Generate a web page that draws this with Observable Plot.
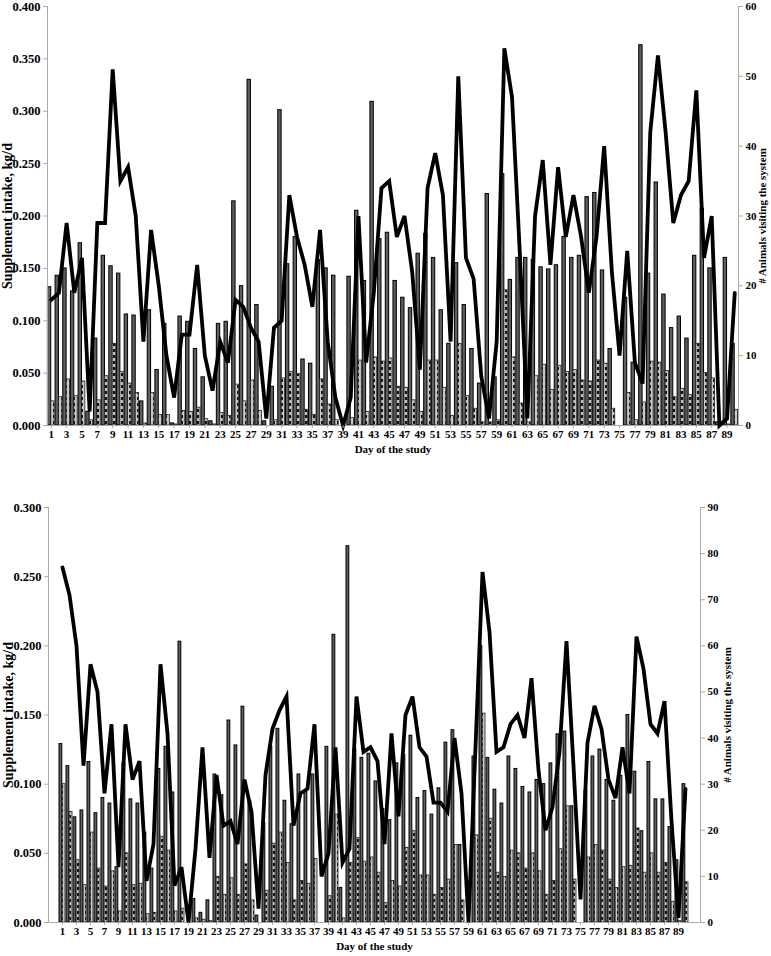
<!DOCTYPE html>
<html><head><meta charset="utf-8">
<script src="https://cdn.jsdelivr.net/npm/d3@7"></script>
<script src="https://cdn.jsdelivr.net/npm/@observablehq/plot@0.6"></script>
<style>
body{margin:0;background:#fff;}
#c svg{display:block;}
</style></head><body><div id="c"></div>
<script>
const days = d3.range(1, 91);
const oddDays = days.filter(d => d % 2 === 1);

// Panel 1
const p1Total = [0.132,0.143,0.150,0.128,0.174,0.013,0.083,0.162,0.152,0.145,
 0.106,0.105,0.023,0.110,0.053,0.097,0.002,0.104,0.099,0.073,
 0.046,0.004,0.097,0.099,0.214,0.133,0.330,0.115,0.004,0.037,
 0.301,0.154,0.180,0.063,0.059,0.158,0.150,0.143,0,0.142,
 0.205,0.138,0.309,0.178,0.184,0.138,0.122,0.112,0.164,0.183,
 0.160,0.110,0.078,0.155,0.115,0.073,0.040,0.221,0.046,0.240,
 0.139,0.160,0.160,0.158,0.151,0.149,0.153,0.180,0.160,0.162,
 0.218,0.222,0.148,0.073,0,0.122,0.060,0.363,0.145,0.232,
 0.125,0.093,0.104,0.083,0.162,0.207,0.150,0.003,0.160,0.078];
const p1Small = [0.023,0.027,0.044,0.028,0.042,0.005,0.024,0.047,0.078,0.051,
 0.040,0.031,0.002,0.031,0.010,0.010,0.001,0.014,0.013,0.017,
 0.006,0.001,0.012,0.009,0.039,0.023,0.043,0.014,0,0.005,
 0.045,0.051,0.049,0.015,0.010,0.044,0.020,0.005,0,0.007,
 0.062,0.013,0.065,0.061,0.064,0.037,0.036,0.024,0.013,0.062,
 0.062,0.036,0.009,0.078,0.028,0.016,0.003,0.003,0.005,0.129,
 0.065,0.021,0.003,0.047,0.058,0.034,0.057,0.051,0.053,0.043,
 0.042,0.062,0.059,0.016,0,0.031,0.005,0.022,0.061,0.060,
 0.052,0.027,0.035,0.029,0.078,0.050,0.045,0.002,0.001,0.015];
const p1Animals = [18,19,29,19,24,2,29,29,51,35,
 37,30,12,28,20,10,4,13,13,23,
 10,5,12,9,18,17,14,12,1,14,
 15,33,27,23,17,28,12,4,0,4,
 30,9,19,34,35,27,30,22,8,34,
 39,33,12,50,24,21,7,1,12,54,
 47,25,1,30,38,23,37,27,33,27,
 19,27,40,22,10,25,9,6,42,53,
 42,29,33,35,48,24,30,0,1,19];
const p1LeftTicks = [0,0.05,0.10,0.15,0.20,0.25,0.30,0.35,0.40];
const p1RightTicks = [0,10,20,30,40,50,60];

// Panel 2
const p2Total = [0.129,0.113,0.076,0.081,0.116,0.079,0.090,0.086,0.040,0.115,
 0.089,0.086,0.065,0.039,0.111,0.127,0.094,0.203,0,0.017,
 0.007,0.016,0.107,0.092,0.146,0.128,0.156,0.088,0.005,0.072,
 0.127,0.140,0.088,0.071,0.107,0.095,0.107,0,0.127,0.208,
 0.025,0.272,0.125,0.119,0.122,0.102,0.082,0.074,0.115,0.121,
 0.135,0.090,0.095,0.078,0.097,0.130,0.139,0.056,0,0.120,
 0.200,0.119,0.096,0.086,0.120,0.111,0.098,0.094,0.103,0.100,
 0.115,0.136,0.138,0.084,0,0.095,0.120,0.125,0.103,0.088,
 0.106,0.150,0.109,0.066,0.116,0.089,0.089,0.069,0.045,0.100];
const p2Small = [0.100,0.080,0.045,0.027,0.065,0.039,0.026,0.037,0.008,0.050,
 0.027,0.028,0.006,0.007,0.062,0.052,0.008,0.010,0,0.003,
 0.002,0.001,0.033,0.020,0.032,0.020,0.042,0.016,0,0.023,
 0.057,0.065,0.043,0.016,0.030,0.028,0.046,0,0.019,0.078,
 0.003,0.043,0.061,0.044,0.047,0.036,0.014,0.030,0.026,0.054,
 0.066,0.034,0.034,0.020,0.025,0.031,0.056,0.016,0,0.063,
 0.151,0.075,0.036,0.033,0.052,0.050,0.039,0.050,0.037,0.020,
 0.030,0.053,0.084,0.031,0,0.047,0.056,0.052,0.031,0.025,
 0.040,0.041,0.068,0.036,0.050,0.036,0.043,0.015,0.001,0.029];
const p2Animals = [77,71,60,34,56,50,28,43,12,43,
 31,35,9,17,56,41,8,12,0,16,
 38,14,32,21,22,17,31,24,3,32,
 42,46,49,21,28,29,43,10,15,38,
 13,16,49,37,38,35,17,41,23,45,
 49,38,36,26,26,24,40,28,0,38,
 76,63,37,38,43,45,40,53,33,20,
 25,37,61,34,5,39,47,42,31,27,
 38,28,62,55,43,41,48,22,1,29];
const p2LeftTicks = [0,0.05,0.10,0.15,0.20,0.25,0.30];
const p2RightTicks = [0,10,20,30,40,50,60,70,80,90];

const yTitle = "Supplement intake, kg/d";
const rTitle = "# Animals visiting the system";
const xTitle = "Day of the study";

function panel(o, id) {
  const k = o.yMax / o.rMax;
  const data = days.map((d, i) => ({day: d, total: o.total[i], small: o.small[i], animals: o.animals[i] * k}));
  const W = 771;
  const padIn = 0.12, padOut = 0.05;
  const step = (W - o.ml - o.mr) / (days.length - padIn + 2 * padOut);
  const bw = step * (1 - padIn);
  const half = bw / 2;
  const svg = Plot.plot({
    width: W, height: o.height,
    marginTop: o.mt, marginBottom: o.mb, marginLeft: o.ml, marginRight: o.mr,
    style: {fontFamily: "'Liberation Serif', 'Times New Roman', serif", fontWeight: "bold", fontSize: "11px", color: "#000", background: "#fff", overflow: "visible"},
    x: {type: "band", domain: days, paddingInner: padIn, paddingOuter: padOut},
    y: {domain: [0, o.yMax]},
    marks: [
      Plot.barY(data, {x: "day", y: "total", fill: "#5e5e5e", stroke: "#000", strokeWidth: 1, insetRight: half}),
      Plot.barY(data, {x: "day", y: "small", fill: "#bbb", stroke: "#222", strokeWidth: 0.8, insetLeft: half, className: "smallbar-" + id}),
      Plot.ruleY([0], {stroke: "#aaa"}),
      Plot.frame({anchor: "left", stroke: "#aaa"}),
      Plot.frame({anchor: "right", stroke: "#aaa"}),
      Plot.line(data, {x: "day", y: "animals", stroke: "#000", strokeWidth: 3.8, strokeLinejoin: "miter", strokeMiterlimit: 4}),
      Plot.axisY(o.leftTicks, {anchor: "left", tickFormat: d => d.toFixed(3), tickSize: 4, tickPadding: 3, stroke: "#aaa", fill: "#000",
        label: yTitle, labelAnchor: "center", labelArrow: "none", labelOffset: o.lOff}),
      Plot.axisY(o.rightTicks.map(v => v * k), {anchor: "right", tickFormat: d => String(Math.round(d / k)), tickSize: 4, tickPadding: 3, stroke: "#aaa", fill: "#000",
        label: rTitle, labelAnchor: "center", labelArrow: "none", labelOffset: o.rOff}),
      Plot.axisX(oddDays, {anchor: "bottom", tickSize: 3, tickPadding: 2, stroke: "#aaa", fill: "#000",
        label: xTitle, labelAnchor: "center", labelArrow: "none", labelOffset: o.xOff})
    ]
  });
  // hatched pattern for the second bar series
  const ns = "http://www.w3.org/2000/svg";
  const defs = document.createElementNS(ns, "defs");
  const pat = document.createElementNS(ns, "pattern");
  pat.setAttribute("id", "dots-" + id);
  pat.setAttribute("patternUnits", "userSpaceOnUse");
  pat.setAttribute("width", "4");
  pat.setAttribute("height", "6");
  const bg = document.createElementNS(ns, "rect");
  bg.setAttribute("width", "4"); bg.setAttribute("height", "6"); bg.setAttribute("fill", "#c8c8c8");
  const dot = document.createElementNS(ns, "rect");
  dot.setAttribute("x", "1"); dot.setAttribute("y", "1"); dot.setAttribute("width", "2"); dot.setAttribute("height", "3"); dot.setAttribute("fill", "#111");
  pat.appendChild(bg); pat.appendChild(dot); defs.appendChild(pat);
  svg.insertBefore(defs, svg.firstChild);
  svg.querySelectorAll(".smallbar-" + id + " rect").forEach(r => r.setAttribute("fill", "url(#dots-" + id + ")"));
  const g = svg.querySelector("g.smallbar-" + id);
  if (g) g.setAttribute("fill", "url(#dots-" + id + ")");
  // larger text for the left axis (as in the reference)
  svg.querySelectorAll("text").forEach(t => {
    const s = t.textContent;
    if (s === yTitle) t.style.fontSize = "14px";
    else if (/^\d\.\d{3}$/.test(s)) t.style.fontSize = "12.5px";
  });
  return svg;
}

const c = document.getElementById("c");
c.appendChild(panel({total: p1Total, small: p1Small, animals: p1Animals, yMax: 0.4, rMax: 60,
  leftTicks: p1LeftTicks, rightTicks: p1RightTicks, height: 460, mt: 6, mb: 35, ml: 47, mr: 33,
  lOff: 45, rOff: 27, xOff: 27}, "a"));
c.appendChild(panel({total: p2Total, small: p2Small, animals: p2Animals, yMax: 0.3, rMax: 90,
  leftTicks: p2LeftTicks, rightTicks: p2RightTicks, height: 496, mt: 47, mb: 34, ml: 48, mr: 71,
  lOff: 45, rOff: 30, xOff: 27}, "b"));
</script></body></html>
